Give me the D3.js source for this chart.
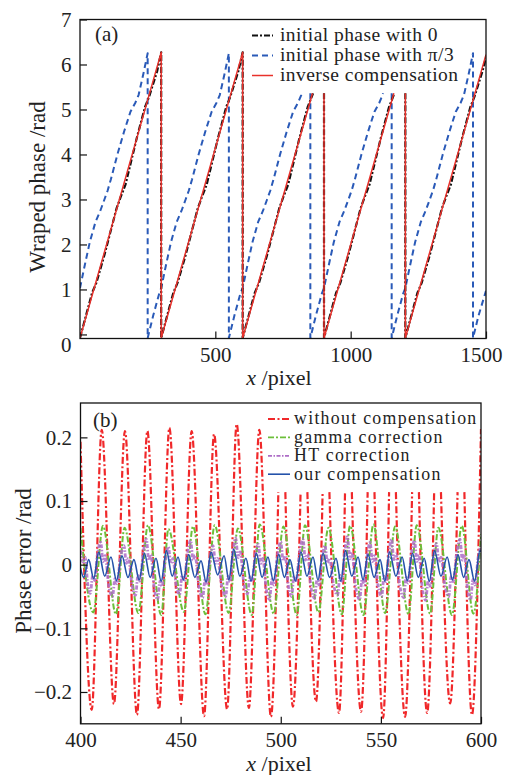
<!DOCTYPE html>
<html><head><meta charset="utf-8">
<script src="https://cdn.jsdelivr.net/npm/d3@7"></script>
<style>
body{margin:0;background:#fff;}
svg{display:block;}
text{font-family:"Liberation Serif","Times New Roman",serif;fill:#222;}
</style></head>
<body><svg id="c" width="505" height="775"></svg>
<script>
// ---------- Panel (a) data: wrapped phase ----------
const xTicksA = [500, 1000, 1500];
const yTicksA = [0, 1, 2, 3, 4, 5, 6, 7];
const legendA = ["initial phase with 0", "initial phase with π/3", "inverse compensation"];
// initial phase with 0 (black dash-dot); y = null marks a gap in the trace
const phase0 = [[0,-0.08],[15,0.26],[45,0.93],[60,1.14],[90,1.76],[135,2.8],[150,3.05],[168,3.33],[210,4.37],[240,5.05],[255,5.28],[285,5.85],[300,6.27],[300,-0.08],
 [315,0.26],[345,0.93],[360,1.14],[390,1.76],[435,2.8],[450,3.05],[468,3.33],[510,4.37],[540,5.05],[555,5.28],[585,5.85],[601,6.27],[601,-0.08],
 [616,0.26],[646,0.93],[661,1.14],[691,1.76],[736,2.8],[751,3.05],[769,3.33],[811,4.37],[841,5.05],[856,5.28],[861,5.36],[880,null],[901.5,5.36],[901.5,-0.08],
 [916.5,0.26],[946.5,0.93],[961.5,1.14],[991.5,1.76],[1036.5,2.8],[1051.5,3.05],[1069.5,3.33],[1111.5,4.37],[1141.5,5.05],[1156.5,5.28],[1161.5,5.36],[1180,null],[1202,5.36],[1202,-0.08],
 [1217,0.26],[1247,0.93],[1262,1.14],[1292,1.76],[1337,2.8],[1352,3.05],[1370,3.33],[1412,4.37],[1442,5.05],[1457,5.28],[1487,5.85],[1500,6.15]];
// initial phase with pi/3 (blue dashed)
const phasePi3 = [[0,1.03],[18,1.55],[36.1,2.05],[57.2,2.5],[75.1,2.75],[90.2,3.0],[102.2,3.2],[114.2,3.45],[138.2,4.0],[162.4,4.5],[186.4,4.95],[204.4,5.15],[216.4,5.32],[234.4,5.8],[250,6.25],[250,-0.08],[270.5,0.42],[293.1,0.92],
 [300,1.03],[318,1.55],[336.1,2.05],[357.2,2.5],[375.1,2.75],[390.2,3.0],[402.2,3.2],[414.2,3.45],[438.2,4.0],[462.4,4.5],[486.4,4.95],[504.4,5.15],[516.4,5.32],[534.4,5.8],[550,6.25],[550,-0.08],[570.5,0.42],[593.1,0.92],
 [601,1.03],[619,1.55],[637.1,2.05],[658.2,2.5],[676.1,2.75],[691.2,3.0],[703.2,3.2],[715.2,3.45],[739.2,4.0],[763.4,4.5],[787.4,4.95],[805.4,5.15],[817.4,5.32],[819,5.36],[834,null],[851,5.36],[851,-0.08],[871.5,0.42],[894.1,0.92],
 [901.5,1.03],[919.5,1.55],[937.6,2.05],[958.7,2.5],[976.6,2.75],[991.7,3.0],[1003.7,3.2],[1015.7,3.45],[1039.7,4.0],[1063.9,4.5],[1087.9,4.95],[1105.9,5.15],[1117.9,5.32],[1119.5,5.36],[1135,null],[1151.5,5.36],[1151.5,-0.08],[1172,0.42],[1194.6,0.92],
 [1202,1.03],[1220,1.55],[1238.1,2.05],[1259.2,2.5],[1277.1,2.75],[1292.2,3.0],[1304.2,3.2],[1316.2,3.45],[1340.2,4.0],[1364.4,4.5],[1388.4,4.95],[1406.4,5.15],[1418.4,5.32],[1436.4,5.8],[1452,6.25],[1452,-0.08],[1472.5,0.42],[1500,0.97]];
// inverse compensation (red solid)
const phaseInv = [[0,-0.08],[300,6.27],[300,-0.08],[601,6.27],[601,-0.08],[859,5.36],[880,null],[901.5,5.36],[901.5,-0.08],[1159.6,5.36],[1180,null],[1202,5.36],[1202,-0.08],[1500,6.22]];

// ---------- Panel (b) data: phase error ----------
const xTicksB = [400, 450, 500, 550, 600];
const yTicksB = [-0.2, -0.1, 0, 0.1, 0.2];
const legendB = ["without compensation", "gamma correction", "HT correction", "our compensation"];
const errNone = [[400,0.193],[405.6,-0.228],[410.6,0.212],[416.7,-0.219],[422.2,0.21],[428.2,-0.236],[433.4,0.21],[439.2,-0.227],[444.4,0.215],[450.2,-0.219],[455.5,0.21],[461.7,-0.238],[466.7,0.205],[473.2,-0.227],[478.0,0.221],[484.1,-0.225],[489.3,0.212],[495.1,-0.239],[498.8,0.114],[500.5,null],[502.3,0.114],[506.1,-0.223],[509.9,0.114],[511.6,null],[513.3,0.114],[517.6,-0.215],[520.9,0.114],[522.6,null],[524.3,0.114],[529.1,-0.233],[532.1,0.114],[533.8,null],[535.5,0.114],[540.1,-0.231],[543.4,0.114],[545.1,null],[546.8,0.114],[551.1,-0.241],[554.1,0.114],[555.8,null],[557.5,0.114],[562.1,-0.239],[565.6,0.114],[567.3,null],[569.0,0.114],[573.1,-0.233],[576.6,0.114],[578.3,null],[580.0,0.114],[584.6,-0.218],[588.3,0.114],[590.0,null],[591.7,0.114],[595.5,-0.236],[600,0.213]];
const errGamma = [[400,0.058],[406.4,-0.075],[411.2,0.061],[417.7,-0.078],[422.0,0.058],[428.9,-0.076],[433.7,0.062],[440.3,-0.079],[443.9,0.056],[451.6,-0.074],[456.2,0.06],[462.4,-0.078],[467.0,0.062],[474.0,-0.076],[478.6,0.057],[485.5,-0.079],[489.5,0.063],[496.5,-0.077],[501.3,0.06],[508.0,-0.079],[512.1,0.062],[518.8,-0.075],[523.8,0.058],[530.5,-0.078],[534.6,0.061],[541.3,-0.079],[546.3,0.063],[552.1,-0.076],[557.1,0.06],[563.8,-0.078],[567.9,0.062],[574.6,-0.077],[578.7,0.058],[585.5,-0.079],[590.4,0.061],[596.2,-0.077],[600,0.048]];
const errHT = [[400,0.022],[401.3,0.004],[402.3,0.012],[403.6,-0.03],[404.9,-0.045],[406.1,-0.017],[407.1,-0.025],[408.4,0.015],[410.1,0.035],[411.3,0.005],[412.3,0.014],[414.1,-0.033],[416.0,-0.05],[417.2,-0.022],[418.2,-0.03],[419.9,0.01],[421.7,0.03],[422.9,0.002],[423.9,0.01],[425.7,-0.032],[427.5,-0.048],[428.7,-0.017],[429.7,-0.026],[431.3,0.018],[432.9,0.04],[434.1,0.007],[435.1,0.016],[436.8,-0.036],[438.5,-0.055],[439.7,-0.026],[440.7,-0.034],[442.3,0.007],[443.9,0.028],[445.1,0.002],[446.1,0.01],[447.8,-0.032],[449.5,-0.047],[450.7,-0.017],[451.7,-0.026],[453.4,0.017],[455.0,0.038],[456.2,0.007],[457.2,0.015],[459.1,-0.034],[461.0,-0.052],[462.2,-0.023],[463.2,-0.032],[464.7,0.01],[466.2,0.03],[467.4,0.002],[468.4,0.01],[470.5,-0.033],[472.5,-0.05],[473.7,-0.018],[474.7,-0.027],[476.1,0.02],[477.5,0.042],[478.7,0.011],[479.7,0.02],[481.5,-0.028],[483.4,-0.046],[484.6,-0.019],[485.6,-0.027],[487.2,0.013],[488.8,0.032],[490.0,0.002],[491.0,0.01],[492.7,-0.037],[494.4,-0.055],[495.6,-0.023],[496.6,-0.032],[498.3,0.013],[500.0,0.036],[501.2,0.006],[502.2,0.014],[503.8,-0.033],[505.4,-0.05],[506.6,-0.018],[507.6,-0.027],[509.3,0.017],[511.1,0.04],[512.3,0.007],[513.3,0.017],[515.1,-0.035],[516.9,-0.053],[518.1,-0.024],[519.1,-0.032],[520.6,0.009],[522.1,0.03],[523.3,0.003],[524.3,0.01],[526.4,-0.032],[528.4,-0.048],[529.6,-0.017],[530.6,-0.026],[532.0,0.02],[533.3,0.044],[534.5,0.009],[535.5,0.019],[537.4,-0.035],[539.4,-0.055],[540.6,-0.023],[541.6,-0.032],[543.1,0.012],[544.6,0.035],[545.8,0.005],[546.8,0.014],[548.6,-0.033],[550.4,-0.05],[551.6,-0.018],[552.6,-0.027],[554.0,0.017],[555.3,0.04],[556.5,0.008],[557.5,0.017],[559.5,-0.034],[561.4,-0.052],[562.6,-0.02],[563.6,-0.029],[565.2,0.016],[566.8,0.038],[568.0,0.005],[569.0,0.015],[570.7,-0.037],[572.4,-0.056],[573.6,-0.025],[574.6,-0.034],[576.2,0.01],[577.8,0.033],[579.0,0.004],[580.0,0.012],[582.0,-0.033],[583.9,-0.05],[585.1,-0.018],[586.1,-0.027],[587.8,0.017],[589.5,0.04],[590.7,0.007],[591.7,0.016],[593.2,-0.036],[594.8,-0.055],[596.0,-0.023],[597.0,-0.032],[598.6,0.012],[600,0.03]];
const errOurs = [[400,-0.005],[401.6,-0.02],[404.1,0.008],[406.6,-0.022],[409.1,0.02],[412.1,-0.018],[415.2,0.012],[418,-0.025],[420.7,0.014],[423.7,-0.02],[426.7,0.008],[429.3,-0.024],[431.9,0.018],[434.8,-0.02],[437.7,0.01],[440.3,-0.026],[442.9,0.022],[445.8,-0.018],[448.7,0.012],[451.4,-0.024],[454,0.016],[457.1,-0.02],[460.2,0.006],[462.7,-0.027],[465.2,0.02],[468.5,-0.016],[471.7,0.014],[474.1,-0.024],[476.5,0.024],[479.6,-0.018],[482.6,0.01],[485.2,-0.026],[487.8,0.018],[490.7,-0.02],[493.6,0.012],[496.3,-0.025],[499,0.016],[501.8,-0.02],[504.6,0.008],[507.4,-0.026],[510.1,0.02],[513.1,-0.018],[516.1,0.012],[518.6,-0.024],[521.1,0.018],[524.4,-0.02],[527.6,0.01],[530,-0.026],[532.3,0.022],[535.5,-0.018],[538.6,0.012],[541.1,-0.024],[543.6,0.016],[546.6,-0.02],[549.6,0.008],[552,-0.026],[554.3,0.02],[557.5,-0.018],[560.6,0.012],[563.2,-0.025],[565.8,0.018],[568.7,-0.02],[571.6,0.01],[574.2,-0.026],[576.8,0.022],[580,-0.018],[583.1,0.012],[585.8,-0.024],[588.5,0.016],[591.3,-0.02],[594,0.008],[596.8,-0.026],[599.5,0.022],[600,0.02]];

// ---------- drawing ----------
const svg = d3.select("#c");
svg.append("rect").attr("width",505).attr("height",775).attr("fill","#fff");

const FONT_TICK = 21;

function panel(o){
  const g = svg.append("g");
  const x = d3.scaleLinear(o.xDomain, o.xRange);
  const y = d3.scaleLinear(o.yDomain, o.yRange);
  const clipId = "clip"+o.id;
  g.append("clipPath").attr("id",clipId).append("rect")
    .attr("x",o.xRange[0]).attr("y",o.yRange[1])
    .attr("width",o.xRange[1]-o.xRange[0]).attr("height",o.yRange[0]-o.yRange[1]);
  const lines = g.append("g").attr("clip-path",`url(#${clipId})`);
  o.series.forEach(s=>{
    const line = d3.line().defined(d=>d[1]!=null).x(d=>x(d[0])).y(d=>y(d[1])).curve(s.curve||d3.curveLinear);
    lines.append("path").datum(s.data).attr("d",line)
      .attr("fill","none").attr("stroke",s.color).attr("stroke-width",s.width)
      .attr("stroke-dasharray",s.dash||null).attr("stroke-linejoin","round")
      .attr("opacity",s.opacity||1);
  });
  // axes
  const ax = d3.axisBottom(x).tickValues(o.xTicks).tickSizeInner(-7).tickSizeOuter(0).tickPadding(o.xPad).tickFormat(d3.format("d"));
  const gx = g.append("g").attr("transform",`translate(0,${o.yRange[0]})`).call(ax);
  const ay = d3.axisLeft(y).tickValues(o.yTicks).tickSizeInner(-7).tickSizeOuter(0).tickPadding(8.5).tickFormat(o.yFormat);
  const gy = g.append("g").attr("transform",`translate(${o.xRange[0]},0)`).call(ay);
  [gx,gy].forEach(a=>{
    a.select(".domain").remove();
    a.selectAll("line").attr("stroke","#111").attr("stroke-width",1.2);
    a.selectAll("text").attr("font-size",FONT_TICK).attr("fill","#222")
      .style("font-family","Liberation Serif, serif");
  });
  if(o.yZeroShift) gy.selectAll(".tick").filter(d=>d===0).select("text").attr("y",o.yZeroShift);
  if(o.lastXEnd) gx.selectAll(".tick").filter(d=>d===o.xTicks[o.xTicks.length-1]).select("text")
      .attr("text-anchor","end").attr("x",o.lastXEnd);
  // frame
  g.append("rect").attr("x",o.xRange[0]).attr("y",o.yRange[1])
    .attr("width",o.xRange[1]-o.xRange[0]).attr("height",o.yRange[0]-o.yRange[1])
    .attr("fill","none").attr("stroke","#111").attr("stroke-width",1.3);
  // panel label
  g.append("text").attr("x",o.tag[0]).attr("y",o.tag[1]).attr("font-size",21).text(o.tag[2]);
  // legend
  o.series.slice().sort((a,b)=>a.legendOrder-b.legendOrder).forEach((s,i)=>{
    const yy = o.leg.y0 + i*o.leg.dy;
    g.append("line").attr("x1",o.leg.x0).attr("x2",o.leg.x1).attr("y1",yy).attr("y2",yy)
      .attr("stroke",s.color).attr("stroke-width",Math.min(s.width,1.8)).attr("stroke-dasharray",s.legDash||s.dash||null);
    g.append("text").attr("x",o.leg.tx).attr("y",yy).attr("dy","0.3em").attr("font-size",o.leg.fs)
      .attr("letter-spacing",o.leg.ls||0).text(s.label);
  });
  // x label
  const xl = g.append("text").attr("x",o.xLabel[0]).attr("y",o.xLabel[1]).attr("text-anchor","middle").attr("font-size",22);
  xl.append("tspan").attr("font-style","italic").text("x");
  xl.append("tspan").text(" /pixel");
  // y label
  g.append("text").attr("transform",`translate(${o.yLabel[0]},${o.yLabel[1]}) rotate(-90)`)
    .attr("text-anchor","middle").attr("font-size",23).text(o.yLabel[2]);
}

panel({
  id:"A", xDomain:[0,1500], xRange:[80,486], yDomain:[-0.09,7], yRange:[338.5,19.5],
  xTicks:xTicksA, yTicks:yTicksA, yFormat:d3.format("d"), xPad:9, yZeroShift:10.5, lastXEnd:16,
  tag:[95,41,"(a)"], xLabel:[279,385], yLabel:[45,187,"Wraped phase /rad"],
  leg:{x0:252,x1:273,tx:280,y0:35.5,dy:20,fs:19.5,ls:0.45},
  series:[
    {label:legendA[1], data:phasePi3, color:"#2a5ab8", width:2, dash:"6,4", legendOrder:1},
    {label:legendA[0], data:phase0, color:"#111", width:2.2, dash:"6,2,2,2", legendOrder:0},
    {label:legendA[2], data:phaseInv, color:"#e8312b", width:1.5, legendOrder:2}
  ]
});

panel({
  id:"B", xDomain:[400,600], xRange:[80.5,481], yDomain:[-0.25,0.254], yRange:[723.8,403],
  xTicks:xTicksB, yTicks:yTicksB, yFormat:d=>d===0?"0":d3.format(".1f")(d).replace("-","−"), xPad:8,
  tag:[93,427,"(b)"], xLabel:[279,771], yLabel:[31,561,"Phase error /rad"],
  leg:{x0:268,x1:290,tx:294,y0:419,dy:18.4,fs:17.8,ls:1.3},
  series:[
    {label:legendB[0], data:errNone, color:"#f0282a", width:2.2, dash:"7,2.5,2,2.5", curve:d3.curveMonotoneX, legendOrder:0},
    {label:legendB[1], data:errGamma, color:"#6cbf3a", width:2, dash:"6,2,2,2", curve:d3.curveMonotoneX, legendOrder:1},
    {label:legendB[2], data:errHT, color:"#ad6cc6", width:2.8, dash:"4,1.5,1.5,1.5", curve:d3.curveMonotoneX, legendOrder:2, opacity:0.85},
    {label:legendB[3], data:errOurs, color:"#2452aa", width:1.6, curve:d3.curveMonotoneX, legendOrder:3}
  ]
});
</script></body></html>
